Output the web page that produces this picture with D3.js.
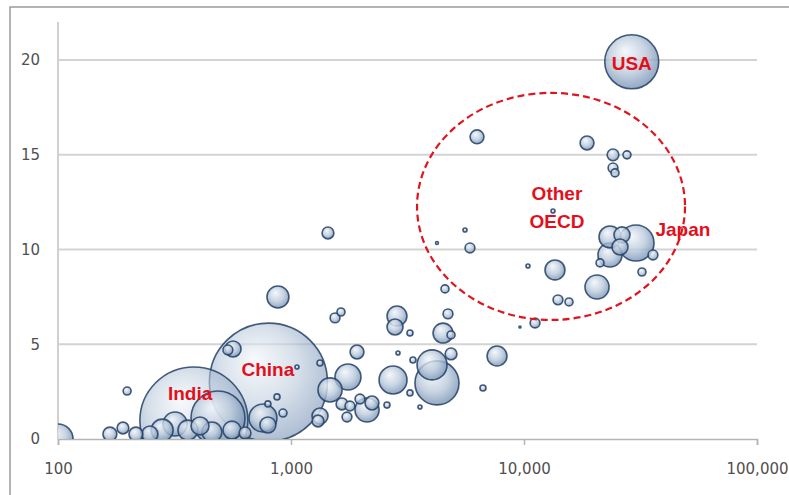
<!DOCTYPE html>
<html>
<head>
<meta charset="utf-8">
<script src="https://cdn.jsdelivr.net/npm/d3@7"></script>
<style>
  body { margin: 0; background: #fff; }
  .tick-label { font-family: "DejaVu Sans", Verdana, sans-serif; font-size: 15px; fill: #505050; }
  .note { font-family: "Liberation Sans", Arial, sans-serif; font-size: 19px; font-weight: bold; fill: #e3101c; }
</style>
</head>
<body>
<svg width="789" height="495"></svg>
<script>
// dane: PKB na osobę (x), emisja na osobę (y), populacja w mln (rozmiar)
var gdp = [29000, 800, 383, 486, 100, 198, 167, 190, 216, 248,
  280, 318, 361, 407, 458, 558, 635, 564, 536, 1061,
  1332, 871, 796, 924, 758, 796, 1471, 1332, 1306, 879,
  1441, 1545, 1639, 2850, 2795, 3241, 4718, 4491, 4862, 4581,
  1920, 2879, 1756, 2741, 4030, 4232, 4862, 3338, 7660, 6668,
  3241, 3577, 2582, 1655, 1791, 1977, 2120, 2226, 1739, 4232,
  5582, 5864, 6285, 18640, 24100, 27670, 24100, 24580, 13320, 23390,
  26340, 30250, 23390, 25820, 21200, 35770, 32090, 13580, 20580, 10400,
  13990, 15600, 11150, 9610];
var co2 = [19.9, 3.0, 0.95, 1.11, 0, 2.53, 0.26, 0.58, 0.26, 0.26,
  0.47, 0.79, 0.47, 0.69, 0.37, 0.47, 0.32, 4.75, 4.70, 3.80,
  4.01, 2.22, 1.85, 1.37, 1.11, 0.74, 2.59, 1.21, 0.95, 7.49,
  10.87, 6.39, 6.70, 6.49, 5.91, 5.59, 6.60, 5.59, 5.49, 7.92,
  4.59, 4.54, 3.27, 3.11, 3.91, 2.96, 4.49, 4.17, 4.38, 2.69,
  2.43, 1.69, 1.79, 1.85, 1.74, 2.11, 1.53, 1.90, 1.16, 10.34,
  11.03, 10.08, 15.94, 15.62, 14.99, 14.99, 14.30, 14.04, 12.03, 10.66,
  10.77, 10.34, 9.71, 10.13, 9.29, 9.71, 8.81, 8.92, 8.02, 9.13,
  7.34, 7.23, 6.12, 5.91];
var population = [272, 1300, 1090, 272, 84, 6, 18, 13, 18, 24,
  45, 54, 37, 30, 37, 30, 13, 24, 9, 1.5,
  3.4, 3.4, 3.4, 6, 73, 24, 54, 24, 13, 45,
  13, 9, 6, 37, 24, 3.4, 9, 37, 6, 6,
  18, 1.5, 63, 73, 84, 181, 13, 3.4, 37, 3.4,
  3.4, 1.5, 3.4, 13, 9, 9, 54, 18, 9, 0.8,
  1.5, 9, 18, 18, 13, 6, 9, 6, 1.5, 45,
  24, 121, 54, 24, 6, 9, 6, 37, 54, 1.5,
  9, 6, 9, 0.4];

// podpisy
var labelNames = ["USA", "China", "India", "Japan", "Other", "OECD"];
var labelX = [29000, 796, 369, 48100, 13850, 13850];
var labelY = [19.85, 3.69, 2.43, 11.08, 12.98, 11.5];

// owal "Other OECD"
var ovalX = [3475, 49100];
var ovalY = [6.28, 18.26];

var xTicks = [100, 1000, 10000, 100000];
var yTicks = [0, 5, 10, 15, 20];

const svg = d3.select('svg');
const plotLeft = 58, plotRight = 757, plotTop = 22, plotBottom = 439;

const x = d3.scaleLog().domain([100, 100000]).range([plotLeft, plotRight]);
const y = d3.scaleLinear().domain([0, 22]).range([plotBottom, plotTop]);
const r = d3.scaleSqrt().domain([0, 1300]).range([0, 59]);

// ramka obrazka
svg.append('path')
  .attr('d', 'M10,495 V7 H789')
  .attr('fill', 'none')
  .attr('stroke', '#9a9a9a')
  .attr('stroke-width', 1.5);

const defs = svg.append('defs');
const grad = defs.append('radialGradient')
  .attr('id', 'bubble')
  .attr('cx', '45%').attr('cy', '42%').attr('r', '60%')
  .attr('fx', '38%').attr('fy', '30%');
grad.append('stop').attr('offset', '0%').attr('stop-color', '#f2f6fa');
grad.append('stop').attr('offset', '55%').attr('stop-color', '#bccbdc');
grad.append('stop').attr('offset', '100%').attr('stop-color', '#7590b3');

defs.append('clipPath').attr('id', 'plot')
  .append('rect')
  .attr('x', plotLeft).attr('y', plotTop)
  .attr('width', plotRight - plotLeft).attr('height', plotBottom - plotTop);

// linie siatki
svg.append('g')
  .selectAll('line')
  .data(yTicks.filter(d => d > 0))
  .enter().append('line')
  .attr('x1', plotLeft).attr('x2', plotRight)
  .attr('y1', d => y(d)).attr('y2', d => y(d))
  .attr('stroke', '#d3d3d3')
  .attr('stroke-width', 2);

// oś y
svg.append('line')
  .attr('x1', plotLeft).attr('x2', plotLeft)
  .attr('y1', plotTop).attr('y2', plotBottom)
  .attr('stroke', '#d0d0d0')
  .attr('stroke-width', 2);

svg.append('g')
  .selectAll('text')
  .data(yTicks)
  .enter().append('text')
  .attr('class', 'tick-label')
  .attr('x', plotLeft - 18)
  .attr('y', d => y(d))
  .attr('dy', '0.36em')
  .attr('text-anchor', 'end')
  .text(d => d);

// oś x
const xAxis = d3.axisBottom(x)
  .tickValues(xTicks)
  .tickSize(6)
  .tickFormat(d3.format(','));
const gx = svg.append('g')
  .attr('transform', 'translate(0,' + plotBottom + ')')
  .call(xAxis);
gx.select('.domain').attr('stroke', '#b4b4b4').attr('stroke-width', 1.5);
gx.selectAll('.tick line').attr('stroke', '#b4b4b4').attr('stroke-width', 1.5);
gx.selectAll('.tick text')
  .attr('class', 'tick-label')
  .attr('y', 30)
  .attr('dy', '0.36em');

// bąbelki - duże najpierw
const bubbles = gdp.map((g, i) => ({ x: g, y: co2[i], p: population[i] }))
  .sort((a, b) => b.p - a.p);

svg.append('g')
  .attr('clip-path', 'url(#plot)')
  .selectAll('circle')
  .data(bubbles)
  .enter().append('circle')
  .attr('cx', d => x(d.x))
  .attr('cy', d => y(d.y))
  .attr('r', d => r(d.p))
  .attr('fill', 'url(#bubble)')
  .attr('fill-opacity', d => d.p > 500 ? 0.6 : 0.8)
  .attr('stroke', '#233f66')
  .attr('stroke-width', 1.6)
  .attr('stroke-opacity', 0.85);

// owal przerywany
svg.append('ellipse')
  .attr('cx', (x(ovalX[0]) + x(ovalX[1])) / 2)
  .attr('cy', (y(ovalY[0]) + y(ovalY[1])) / 2)
  .attr('rx', (x(ovalX[1]) - x(ovalX[0])) / 2)
  .attr('ry', (y(ovalY[0]) - y(ovalY[1])) / 2)
  .attr('fill', 'none')
  .attr('stroke', '#e0141e')
  .attr('stroke-width', 2.2)
  .attr('stroke-dasharray', '7,4');

// etykiety krajów
svg.append('g')
  .selectAll('text')
  .data(labelNames)
  .enter().append('text')
  .attr('class', 'note')
  .attr('x', (d, i) => x(labelX[i]))
  .attr('y', (d, i) => y(labelY[i]))
  .attr('dy', '0.36em')
  .attr('text-anchor', 'middle')
  .text(d => d);
</script>
</body>
</html>
